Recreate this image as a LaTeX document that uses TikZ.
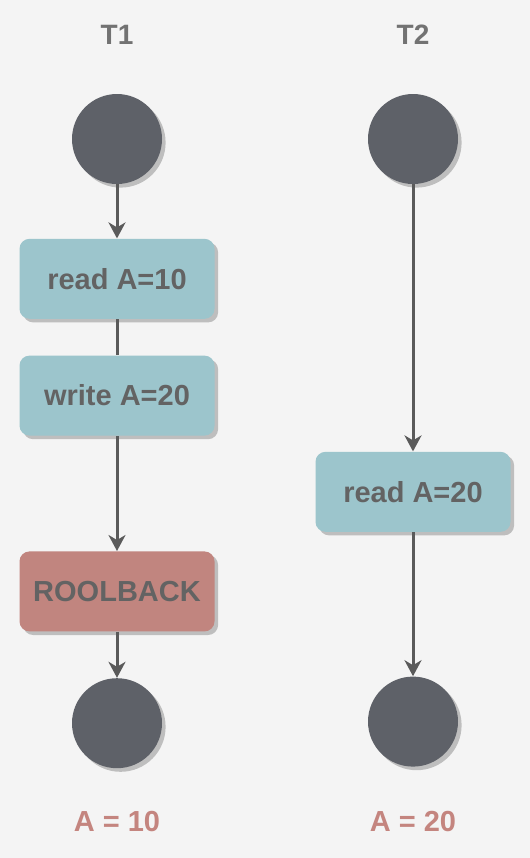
\documentclass[tikz,border=0pt]{standalone}
\usepackage{fontspec}
\setmainfont{Liberation Sans}
\usepackage{tikz}
\usetikzlibrary{positioning,arrows.meta,shadows}
\definecolor{fundo}{HTML}{F4F4F4}
\definecolor{bola}{HTML}{5E6168}
\definecolor{linha}{HTML}{5A5A5A}
\definecolor{azulop}{HTML}{9CC5CC}
\definecolor{rosaop}{HTML}{C1857F}
\definecolor{textocinza}{HTML}{636363}
\definecolor{resultado}{HTML}{C4857F}

\begin{document}
\begin{tikzpicture}[
      x=0.5pt, y=-0.5pt,
      font=\fontsize{14.5}{17}\selectfont\bfseries,
      sombra/.style={drop shadow={shadow xshift=1.8pt, shadow yshift=-1.8pt, fill=black, opacity=0.22}},
      estado/.style={circle, fill=bola, minimum size=45pt, inner sep=0pt, sombra},
      oper/.style={rounded corners=5pt, fill=azulop, text=textocinza, align=center,
                   minimum width=97.5pt, minimum height=40pt, inner sep=0pt, sombra},
      desfaz/.style={oper, fill=rosaop},
      titulo/.style={text=textocinza!90, font=\fontsize{14}{17}\selectfont\bfseries},
      final/.style={text=resultado},
      seta/.style={-{Stealth[length=8pt, width=8.5pt, inset=2.5pt]}, linha, line width=1.5pt},
      liga/.style={linha, line width=1.5pt}]
    \fill[fundo] (0,0) rectangle (530,858);
    % T1
    \node[titulo] (t1) at (117,35) {T1};
    \node[estado] (i1) at (117,139) {};
    \node[oper, below=27pt of i1] (r1) {read A=10};
    \node[oper, below=18pt of r1] (w1) {write A=20};
    \node[desfaz, below=57.5pt of w1] (rb) {ROOLBACK};
    \node[estado, below=23pt of rb] (f1) {};
    \node[final] (a1) at (117,822) {A = 10};
    % T2
    \node[titulo] (t2) at (413,35) {T2};
    \node[estado] (i2) at (413,139) {};
    \node[oper, below=133.5pt of i2] (r2) {read A=20};
    \node[estado, below=72pt of r2] (f2) {};
    \node[final] (a2) at (413,822) {A = 20};
    \draw[seta] (i1) -- (r1); \draw[liga] (r1) -- (w1);
    \draw[seta] (w1) -- (rb); \draw[seta] (rb) -- (f1);
    \draw[seta] (i2) -- (r2); \draw[seta] (r2) -- (f2);
  \end{tikzpicture}
\end{document}
